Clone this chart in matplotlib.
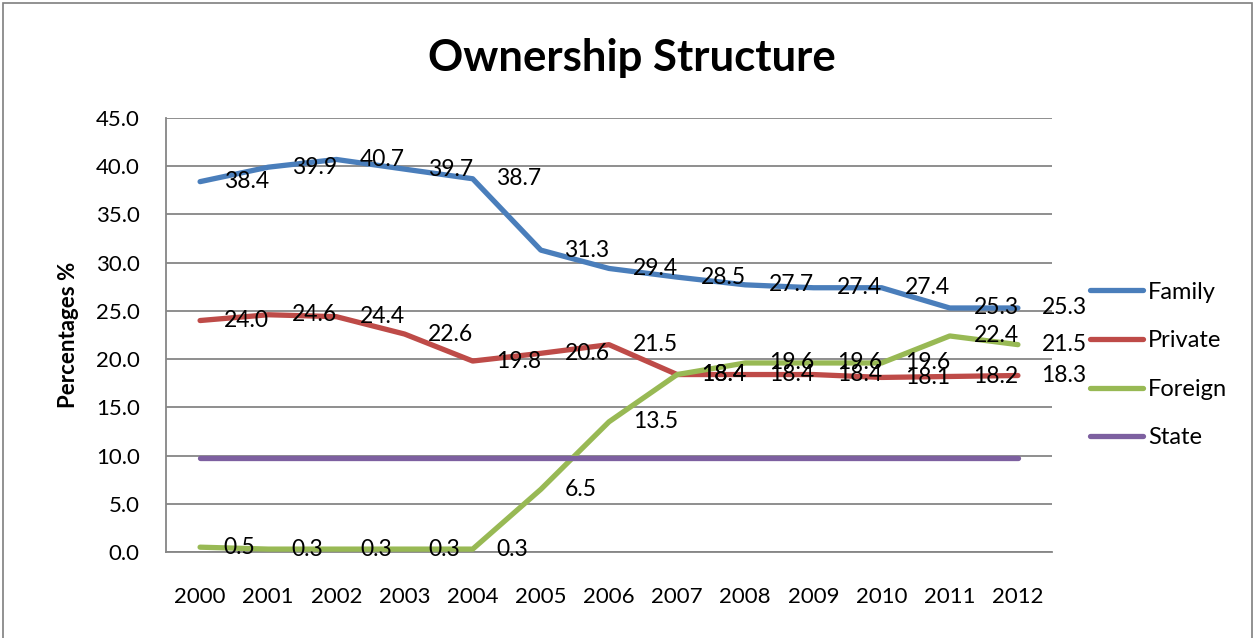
import matplotlib
matplotlib.use("Agg")
import matplotlib.pyplot as plt
from matplotlib.patches import Rectangle

years = ["2000", "2001", "2002", "2003", "2004", "2005", "2006",
         "2007", "2008", "2009", "2010", "2011", "2012"]
family = [38.4, 39.9, 40.7, 39.7, 38.7, 31.3, 29.4, 28.5, 27.7, 27.4, 27.4, 25.3, 25.3]
private = [24.0, 24.6, 24.4, 22.6, 19.8, 20.6, 21.5, 18.4, 18.4, 18.4, 18.1, 18.2, 18.3]
foreign = [0.5, 0.3, 0.3, 0.3, 0.3, 6.5, 13.5, 18.4, 19.6, 19.6, 19.6, 22.4, 21.5]
state = [9.7] * 13
yticks = [0, 5, 10, 15, 20, 25, 30, 35, 40, 45]

plt.rcParams['font.family'] = ['Lato', 'DejaVu Sans']

W, H = 1255, 638
fig = plt.figure(figsize=(W / 100, H / 100), dpi=100)
fig.patch.set_facecolor('white')
ax = fig.add_axes([166 / W, 1 - 552 / H, (1052 - 166) / W, (552 - 118) / H])

x = list(range(len(years)))
series = [
    ("Family", family, "#4A7EBB", True),
    ("Private", private, "#BE4B48", True),
    ("Foreign", foreign, "#98B954", True),
    ("State", state, "#7D60A0", False),
]
for name, vals, col, lab in series:
    ax.plot(x, vals, color=col, lw=3.8, solid_capstyle='round', label=name, zorder=3)
    if lab:
        for xi, v in zip(x, vals):
            ax.annotate(f"{v:.1f}", (xi, v), xytext=(17, 0), textcoords='offset points',
                        ha='left', va='center', fontsize=16.5, color='black', zorder=4)

ax.set_xlim(-0.5, 12.5)
ax.set_ylim(0, 45)
ax.set_yticks(yticks)
ax.set_yticklabels([f"{t:.1f}" for t in yticks], fontsize=16)
ax.set_xticks(x)
ax.set_xticklabels(years, fontsize=16)
ax.tick_params(axis='y', length=0, pad=19)
ax.tick_params(axis='x', length=0, pad=25)
ax.grid(axis='y', color='#868686', lw=1.3, zorder=1)
ax.set_axisbelow(True)
for s in ['top', 'right']:
    ax.spines[s].set_visible(False)
for s in ['left', 'bottom']:
    ax.spines[s].set_color('#868686')
    ax.spines[s].set_linewidth(1.3)

ax.set_ylabel("Percentages %", fontsize=16, fontweight='bold', labelpad=12)

fig.text(632 / W, 1 - 58 / H, "Ownership Structure", ha='center', va='center',
         fontsize=31.5, fontweight='bold')

leg = fig.legend(loc='center left', bbox_to_anchor=(1090 / W, 1 - 365 / H),
                 frameon=False, fontsize=17, handlelength=2.25, labelspacing=1.17,
                 handletextpad=0.2, borderpad=0, borderaxespad=0)
for h in leg.get_lines():
    h.set_linewidth(3.8)

fig.add_artist(Rectangle((3 / W, -0.05), (1252 - 3) / W, 1.05 - 3 / H,
                         transform=fig.transFigure, fill=False, edgecolor='#7f7f7f', lw=1.2))

fig.savefig("out.png", dpi=100)
